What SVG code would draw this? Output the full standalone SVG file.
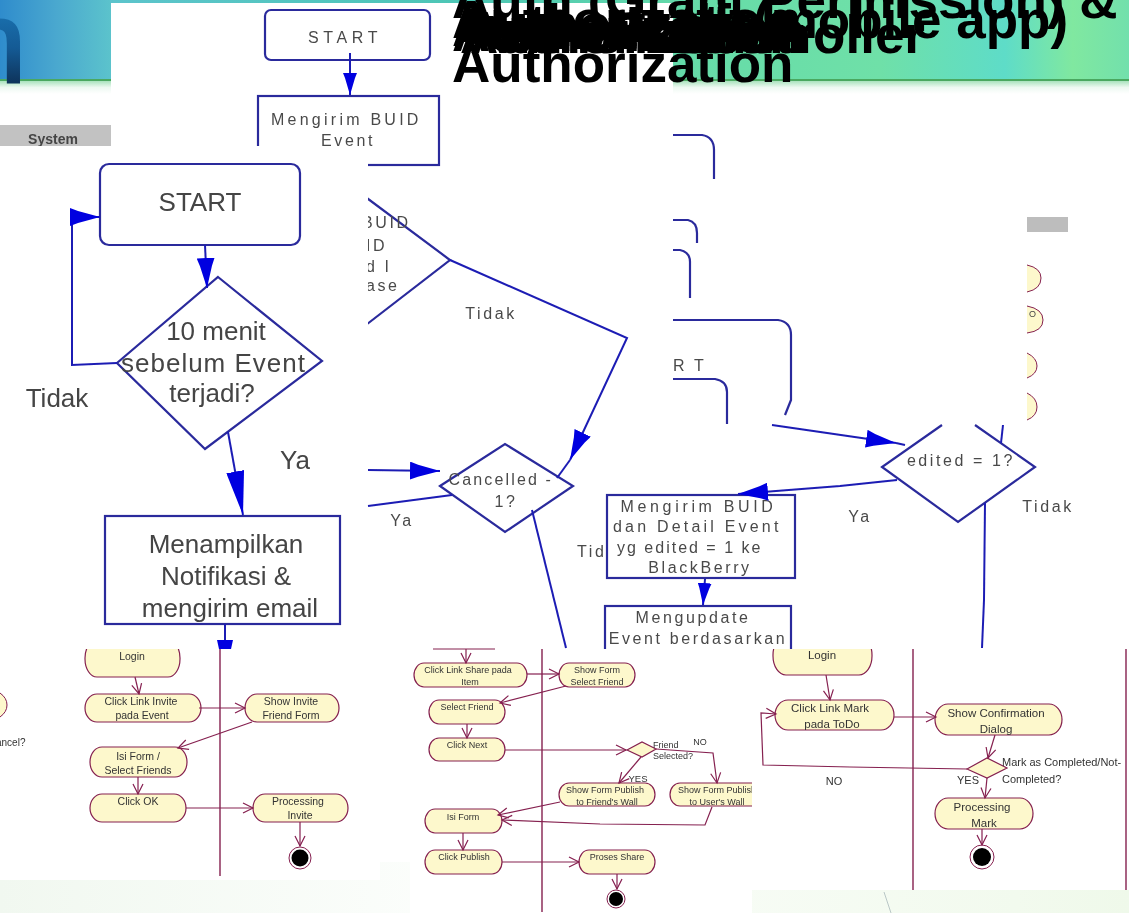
<svg xmlns="http://www.w3.org/2000/svg" width="1129" height="913" viewBox="0 0 1129 913">
<style>
text{font-family:"Liberation Sans",Arial,sans-serif}
.title{font-size:53px;font-weight:700;fill:#000}
.fb{fill:#fff;stroke:#2a2a9c;stroke-width:2.2}
.ff{fill:none;stroke:#2a2a9c;stroke-width:2.2}
.fc{fill:none;stroke:#1c1cb4;stroke-width:2}
.ft{fill:#4a4a4a;font-size:16px;letter-spacing:2.6px;text-anchor:middle}
.fs{fill:#4a4a4a;font-size:16px;letter-spacing:2.6px;text-anchor:start}
.ft2{fill:#444;font-size:26px;text-anchor:middle}
.an{fill:#fdf8cc;stroke:#85204f;stroke-width:1.2}
.arc{fill:#fdf8cc;stroke:#85204f;stroke-width:1}
.at{fill:#333;font-size:10.5px;text-anchor:middle}
.as{fill:#333;font-size:9px;text-anchor:middle}
.ar{fill:#333;font-size:11.5px;text-anchor:middle}
.ac{fill:none;stroke:#85204f;stroke-width:1.2;marker-end:url(#open)}
.acn{fill:none;stroke:#85204f;stroke-width:1.2}
.lane{stroke:#85204f;stroke-width:1.4}
.blur{filter:url(#soft)}
</style>
<defs>
<linearGradient id="hdr" x1="0" x2="1" y1="0" y2="0">
<stop offset="0" stop-color="#2f8ccc"/><stop offset=".05" stop-color="#4aa8cf"/><stop offset=".1" stop-color="#5cc4cc"/><stop offset=".42" stop-color="#4cc6b4"/><stop offset=".62" stop-color="#66dca8"/><stop offset=".78" stop-color="#6fe0a8"/><stop offset=".89" stop-color="#5edcc8"/><stop offset=".95" stop-color="#80e8a0"/><stop offset="1" stop-color="#72e0ac"/>
</linearGradient>
<linearGradient id="fade" x1="0" x2="0" y1="0" y2="1"><stop offset="0" stop-color="#a9e2bd"/><stop offset=".5" stop-color="#eef9f2"/><stop offset="1" stop-color="#fff"/></linearGradient>
<linearGradient id="nfill" x1="0" x2="0" y1="0" y2="1"><stop offset="0" stop-color="#1f86c8"/><stop offset=".55" stop-color="#145a94"/><stop offset="1" stop-color="#0a1a35"/></linearGradient>
<linearGradient id="foot" x1="0" x2="1" y1="0" y2="0"><stop offset="0" stop-color="#f1f8f0"/><stop offset=".4" stop-color="#fcfefc"/><stop offset=".9" stop-color="#f2faee"/><stop offset="1" stop-color="#eff9ea"/></linearGradient>
<filter id="soft" x="-5%" y="-5%" width="110%" height="110%"><feGaussianBlur stdDeviation="0.35"/></filter>
<marker id="open" markerUnits="userSpaceOnUse" markerWidth="14" markerHeight="12" refX="11" refY="6" orient="auto"><path d="M1 1 L11 6 L1 11" fill="none" stroke="#85204f" stroke-width="1.2"/></marker>
<marker id="wS" markerUnits="userSpaceOnUse" markerWidth="22" markerHeight="14" refX="22" refY="7" orient="auto"><path d="M0 0 L5 2 L22 7 L5 12 L0 14 Z" fill="#0000e0"/></marker>
<marker id="wM" markerUnits="userSpaceOnUse" markerWidth="30" markerHeight="18" refX="30" refY="9" orient="auto"><path d="M0 0 L8 3 L30 9 L8 15 L0 18 Z" fill="#0000e0"/></marker>
<marker id="wL" markerUnits="userSpaceOnUse" markerWidth="44" markerHeight="18" refX="44" refY="9" orient="auto"><path d="M0 0 L44 9 L0 18 Z" fill="#0000e0"/></marker>
<clipPath id="cL"><rect x="0" y="649" width="380" height="240"/></clipPath>
<clipPath id="cM"><rect x="410" y="649" width="342" height="264"/></clipPath>
<clipPath id="cR"><rect x="752" y="649" width="377" height="241"/></clipPath>
</defs>

<g id="background">
<rect width="1129" height="913" fill="#fff"/>
<rect width="1129" height="80" fill="url(#hdr)"/>
<rect y="79" width="1129" height="2" fill="#4aa860"/>
<rect y="81" width="1129" height="13" fill="url(#fade)"/>
<rect y="862" width="1129" height="51" fill="url(#foot)"/>
<path d="M884 892 L891 913" stroke="#b9c6c6" stroke-width="1" fill="none"/>
<text x="-38" y="82" font-size="115" fill="url(#nfill)" stroke="url(#nfill)" stroke-width="3">n</text>
</g>

<g id="system-band" class="blur">
<rect x="0" y="125" width="111" height="21" fill="#c2c2c2"/>
<text x="53" y="144" font-size="14" font-weight="700" fill="#444" text-anchor="middle">System</text>
</g>
<g id="right-fragments" class="blur">
<rect x="1027" y="217" width="41" height="15" fill="#bdbdbd"/>
<path class="arc" d="M1027 265 Q1041 268 1041 278 Q1041 289 1027 292"/>
<path class="arc" d="M1027 306 Q1043 309 1043 320 Q1043 331 1027 333"/>
<path class="arc" d="M1027 353 Q1037 358 1037 366 Q1037 374 1027 378"/>
<path class="arc" d="M1027 393 Q1037 398 1037 407 Q1037 416 1027 420"/>
<text x="1029" y="317" font-size="9" fill="#444">O</text>
</g>

<g id="panel-a" class="blur">
<rect x="111" y="3" width="562" height="645" fill="#fff"/>
</g>

<g id="title">
<text class="title" x="452" y="18">Auth (Grant Permission) &amp;</text>
<text class="title" x="753" y="38">(mobile app)</text>
<text class="title" x="925" y="53" text-anchor="end">Controller</text>
<text class="title" x="452" y="38">Authorization</text>
<text class="title" x="458" y="42">Authorization</text>
<text class="title" x="452" y="46">Authorization</text>
<text class="title" x="464" y="49">Authorization</text>
<text class="title" x="452" y="51">Authorization</text>
<text class="title" x="460" y="53">Authorization</text>
<text class="title" x="470" y="53">Authorization</text>
<text class="title" x="452" y="82">Authorization</text>
</g>

<g id="flow-a" class="blur">
<g id="start-1"><rect class="fb" x="265" y="10" width="165" height="50" rx="6"/><text class="ft" x="344" y="43" textLength="72">START</text></g>
<g id="kirim-buid"><rect class="fb" x="258" y="96" width="181" height="69"/><text class="ft" x="346" y="125" textLength="150">Mengirim BUID</text><text class="ft" x="348" y="146">Event</text></g>
<g id="cek-buid"><path class="ff" d="M340 178 L450 260 L340 345"/>
<text class="fs" x="362" y="228">BUID</text>
<text class="fs" x="366" y="251">ID</text>
<text class="fs" x="366" y="272">d I</text>
<text class="fs" x="366" y="291">ase</text></g>
<g id="cancelled"><polygon class="fb" points="440,486 505,444 573,486 505,532"/><text class="ft" x="501" y="485" textLength="105">Cancelled -</text><text class="ft" x="506" y="507">1?</text></g>
<text class="ft" x="491" y="319">Tidak</text>
<text class="ft" x="402" y="526">Ya</text>
<text class="fs" x="577" y="557">Tid</text>
<g id="kirim-edited"><rect class="fb" x="607" y="495" width="188" height="83"/>
<text class="ft" x="698" y="512" textLength="155">Mengirim BUID</text><text class="ft" x="697" y="532" textLength="168">dan Detail Event</text><text class="ft" x="690" y="553" textLength="146">yg edited = 1 ke</text><text class="ft" x="700" y="573">BlackBerry</text></g>
<g id="mengupdate"><rect class="fb" x="605" y="606" width="186" height="60"/>
<text class="ft" x="693" y="623">Mengupdate</text><text class="ft" x="698" y="644">Event berdasarkan</text></g>
<g id="edited"><polyline class="ff" points="942,425 882,467 958,522 1035,467 975,425"/><text class="ft" x="961" y="466">edited = 1?</text></g>
<text class="ft" x="860" y="522">Ya</text>
<text class="ft" x="1048" y="512">Tidak</text>
<g id="fragments">
<path class="ff" d="M673 135 H702 Q714 137 714 150 V179"/>
<path class="ff" d="M673 220 H688 Q697 222 697 233 V243"/>
<path class="ff" d="M673 250 H680 Q690 252 690 262 V298"/>
<path class="ff" d="M673 320 H778 Q791 322 791 335 V400 L785 415"/>
<path class="ff" d="M673 379 H715 Q727 381 727 392 V424"/>
<text class="fs" x="673" y="371">R T</text>
</g>
</g>

<g id="panel-b" class="blur">
<rect x="0" y="146" width="368" height="503" fill="#fff"/>
<g id="start-2"><rect class="fb" x="100" y="164" width="200" height="81" rx="9"/><text class="ft2" x="200" y="211">START</text></g>
<g id="ten-min"><polygon class="fb" points="218,277 322,361 205,449 117,363"/>
<text class="ft2" x="216" y="340">10 menit</text><text class="ft2" x="213" y="372" textLength="184">sebelum Event</text><text class="ft2" x="212" y="402">terjadi?</text></g>
<text class="ft2" x="57" y="407" style="font-size:26px">Tidak</text>
<text class="ft2" x="295" y="469" style="font-size:26px">Ya</text>
<g id="menampilkan"><rect class="fb" x="105" y="516" width="235" height="108"/>
<text class="ft2" x="226" y="553">Menampilkan</text><text class="ft2" x="226" y="585">Notifikasi &amp;</text><text class="ft2" x="230" y="617">mengirim email</text></g>
</g>

<g id="connectors-flow" class="blur">
<line class="fc" x1="350" y1="53" x2="350" y2="95" marker-end="url(#wS)"/>
<line class="fc" x1="205" y1="245" x2="207" y2="288" marker-end="url(#wM)"/>
<polyline class="fc" points="117,363 72,365 72,217 100,217" marker-end="url(#wM)"/>
<line class="fc" x1="228" y1="432" x2="243" y2="515" marker-end="url(#wL)"/>
<line class="fc" x1="225" y1="624" x2="225" y2="649"/>
<polygon points="217,640 233,640 231,649 219,649" fill="#0000e0"/>
<polyline class="fc" points="450,260 627,338 570,460" marker-end="url(#wM)"/>
<line class="fc" x1="570" y1="460" x2="557" y2="478"/>
<line class="fc" x1="368" y1="470" x2="440" y2="471" marker-end="url(#wM)"/>
<line class="fc" x1="368" y1="506" x2="452" y2="495"/>
<line class="fc" x1="532" y1="510" x2="566" y2="648"/>
<line class="fc" x1="772" y1="425" x2="896" y2="443" marker-end="url(#wM)"/>
<line class="fc" x1="896" y1="443" x2="905" y2="445"/>
<polyline class="fc" points="897,480 840,486 738,494" marker-end="url(#wM)"/>
<line class="fc" x1="705" y1="579" x2="703" y2="605" marker-end="url(#wS)"/>
<polyline class="fc" points="985,503 984,600 982,648"/>
<line class="fc" x1="1003" y1="425" x2="1001" y2="443"/>
</g>

<g id="activity-left" class="blur">
<rect x="0" y="649" width="380" height="231" fill="#fff"/>
<path class="arc" d="M0 693 Q7 698 7 705 Q7 712 0 717"/>
<text x="-4" y="746" font-size="10" fill="#333">ancel?</text>
<line class="lane" x1="220" y1="649" x2="220" y2="876"/>
<g clip-path="url(#cL)">
<g id="login-l"><rect class="an" x="85" y="640" width="95" height="37" rx="12" ry="18"/><text class="at" x="132" y="660">Login</text></g>
</g>
<g id="click-invite"><rect class="an" x="85" y="694" width="116" height="28" rx="12" ry="14"/><text class="at" x="141" y="705">Click Link Invite</text><text class="at" x="142" y="719">pada Event</text></g>
<g id="show-invite"><rect class="an" x="245" y="694" width="94" height="28" rx="12" ry="14"/><text class="at" x="291" y="705">Show Invite</text><text class="at" x="291" y="719">Friend Form</text></g>
<g id="isi-form-l"><rect class="an" x="90" y="747" width="97" height="30" rx="12" ry="15"/><text class="at" x="138" y="760">Isi Form /</text><text class="at" x="138" y="774">Select Friends</text></g>
<g id="click-ok"><rect class="an" x="90" y="794" width="96" height="28" rx="12" ry="14"/><text class="at" x="138" y="805">Click OK</text></g>
<g id="processing-invite"><rect class="an" x="253" y="794" width="95" height="28" rx="12" ry="14"/><text class="at" x="298" y="805">Processing</text><text class="at" x="300" y="819">Invite</text></g>
<g id="end-l"><circle cx="300" cy="858" r="11" fill="#fff" stroke="#85204f"/><circle cx="300" cy="858" r="8.5" fill="#000"/></g>
</g>

<g id="activity-mid" class="blur">
<rect x="410" y="649" width="342" height="264" fill="#fff"/>
<line class="lane" x1="542" y1="649" x2="542" y2="912"/>
<line class="acn" x1="433" y1="649" x2="495" y2="649"/>
<g clip-path="url(#cM)">
<g id="click-share"><rect class="an" x="414" y="663" width="113" height="24" rx="10" ry="12"/><text class="as" x="468" y="673">Click Link Share pada</text><text class="as" x="470" y="685">Item</text></g>
<g id="show-select"><rect class="an" x="559" y="663" width="76" height="24" rx="10" ry="12"/><text class="as" x="597" y="673">Show Form</text><text class="as" x="597" y="685">Select Friend</text></g>
<g id="select-friend"><rect class="an" x="429" y="700" width="76" height="24" rx="10" ry="12"/><text class="as" x="467" y="710">Select Friend</text></g>
<g id="click-next"><rect class="an" x="429" y="738" width="76" height="23" rx="10" ry="11.5"/><text class="as" x="467" y="748">Click Next</text></g>
<g id="friend-selected"><polygon class="an" points="627,750 642,742 656,749 642,757"/><text class="as" x="653" y="748" text-anchor="start" style="text-anchor:start">Friend</text><text class="as" x="653" y="759" style="text-anchor:start">Selected?</text><text class="as" x="700" y="745">NO</text><text class="as" x="638" y="782" style="font-size:9.5px">YES</text></g>
<g id="publish-friend"><rect class="an" x="559" y="783" width="96" height="23" rx="10" ry="11.5"/><text class="as" x="605" y="793">Show Form Publish</text><text class="as" x="607" y="805">to Friend's Wall</text></g>
<g id="publish-user"><rect class="an" x="670" y="783" width="95" height="23" rx="10" ry="11.5"/><text class="as" x="717" y="793">Show Form Publish</text><text class="as" x="717" y="805">to User's Wall</text></g>
<g id="isi-form-m"><rect class="an" x="425" y="809" width="77" height="24" rx="10" ry="12"/><text class="as" x="463" y="820">Isi Form</text></g>
<g id="click-publish"><rect class="an" x="425" y="850" width="77" height="24" rx="10" ry="12"/><text class="as" x="464" y="860">Click Publish</text></g>
<g id="proses-share"><rect class="an" x="579" y="850" width="76" height="24" rx="10" ry="12"/><text class="as" x="617" y="860">Proses Share</text></g>
<g id="end-m"><circle cx="616" cy="899" r="9" fill="#fff" stroke="#85204f"/><circle cx="616" cy="899" r="7" fill="#000"/></g>
</g>
</g>

<g id="activity-right" class="blur">
<rect x="752" y="649" width="377" height="241" fill="#fff"/>
<line class="lane" x1="913" y1="649" x2="913" y2="890"/>
<line class="lane" x1="1126" y1="649" x2="1126" y2="890"/>
<g clip-path="url(#cR)">
<g id="login-r"><rect class="an" x="773" y="636" width="99" height="39" rx="13" ry="19"/><text class="ar" x="822" y="659">Login</text></g>
</g>
<g id="click-mark"><rect class="an" x="775" y="700" width="119" height="30" rx="13" ry="15"/><text class="ar" x="830" y="712">Click Link Mark</text><text class="ar" x="832" y="728">pada ToDo</text></g>
<g id="show-confirm"><rect class="an" x="935" y="704" width="127" height="31" rx="13" ry="15.5"/><text class="ar" x="996" y="717">Show Confirmation</text><text class="ar" x="996" y="733">Dialog</text></g>
<g id="mark-decision"><polygon class="an" points="967,769 987,758 1007,768 987,778"/><text class="ar" x="1002" y="766" style="font-size:11px;text-anchor:start">Mark as Completed/Not-</text><text class="ar" x="1002" y="783" style="font-size:11px;text-anchor:start">Completed?</text><text class="ar" x="968" y="784" style="font-size:11px">YES</text><text class="ar" x="834" y="785" style="font-size:11px">NO</text></g>
<g id="processing-mark"><rect class="an" x="935" y="798" width="98" height="31" rx="13" ry="15.5"/><text class="ar" x="982" y="811">Processing</text><text class="ar" x="984" y="827">Mark</text></g>
<g id="end-r"><circle cx="982" cy="857" r="12" fill="#fff" stroke="#85204f"/><circle cx="982" cy="857" r="9" fill="#000"/></g>
</g>

<g id="connectors-activity" class="blur">
<line class="ac" x1="135" y1="677" x2="139" y2="694"/>
<line class="ac" x1="199" y1="708" x2="245" y2="708"/>
<line class="ac" x1="252" y1="722" x2="178" y2="748"/>
<line class="ac" x1="138" y1="777" x2="138" y2="794"/>
<line class="ac" x1="186" y1="808" x2="253" y2="808"/>
<line class="ac" x1="300" y1="822" x2="300" y2="846"/>
<line class="ac" x1="466" y1="649" x2="466" y2="663"/>
<line class="ac" x1="527" y1="674" x2="559" y2="674"/>
<line class="ac" x1="566" y1="686" x2="500" y2="703"/>
<line class="ac" x1="467" y1="724" x2="467" y2="738"/>
<line class="ac" x1="505" y1="750" x2="626" y2="750"/>
<line class="ac" x1="641" y1="757" x2="619" y2="783"/>
<polyline class="ac" points="656,749 713,753 717,783"/>
<line class="ac" x1="560" y1="802" x2="498" y2="815"/>
<polyline class="ac" points="712,807 705,825 600,824 502,820"/>
<line class="ac" x1="463" y1="833" x2="463" y2="850"/>
<line class="ac" x1="502" y1="862" x2="579" y2="862"/>
<line class="ac" x1="617" y1="874" x2="617" y2="889"/>
<line class="ac" x1="826" y1="675" x2="830" y2="700"/>
<line class="ac" x1="894" y1="717" x2="936" y2="717"/>
<line class="ac" x1="995" y1="735" x2="988" y2="758"/>
<line class="ac" x1="987" y1="778" x2="985" y2="798"/>
<line class="ac" x1="982" y1="829" x2="982" y2="845"/>
<polyline class="ac" points="967,769 850,767 763,765 761,713 776,714"/>
</g>
</svg>
